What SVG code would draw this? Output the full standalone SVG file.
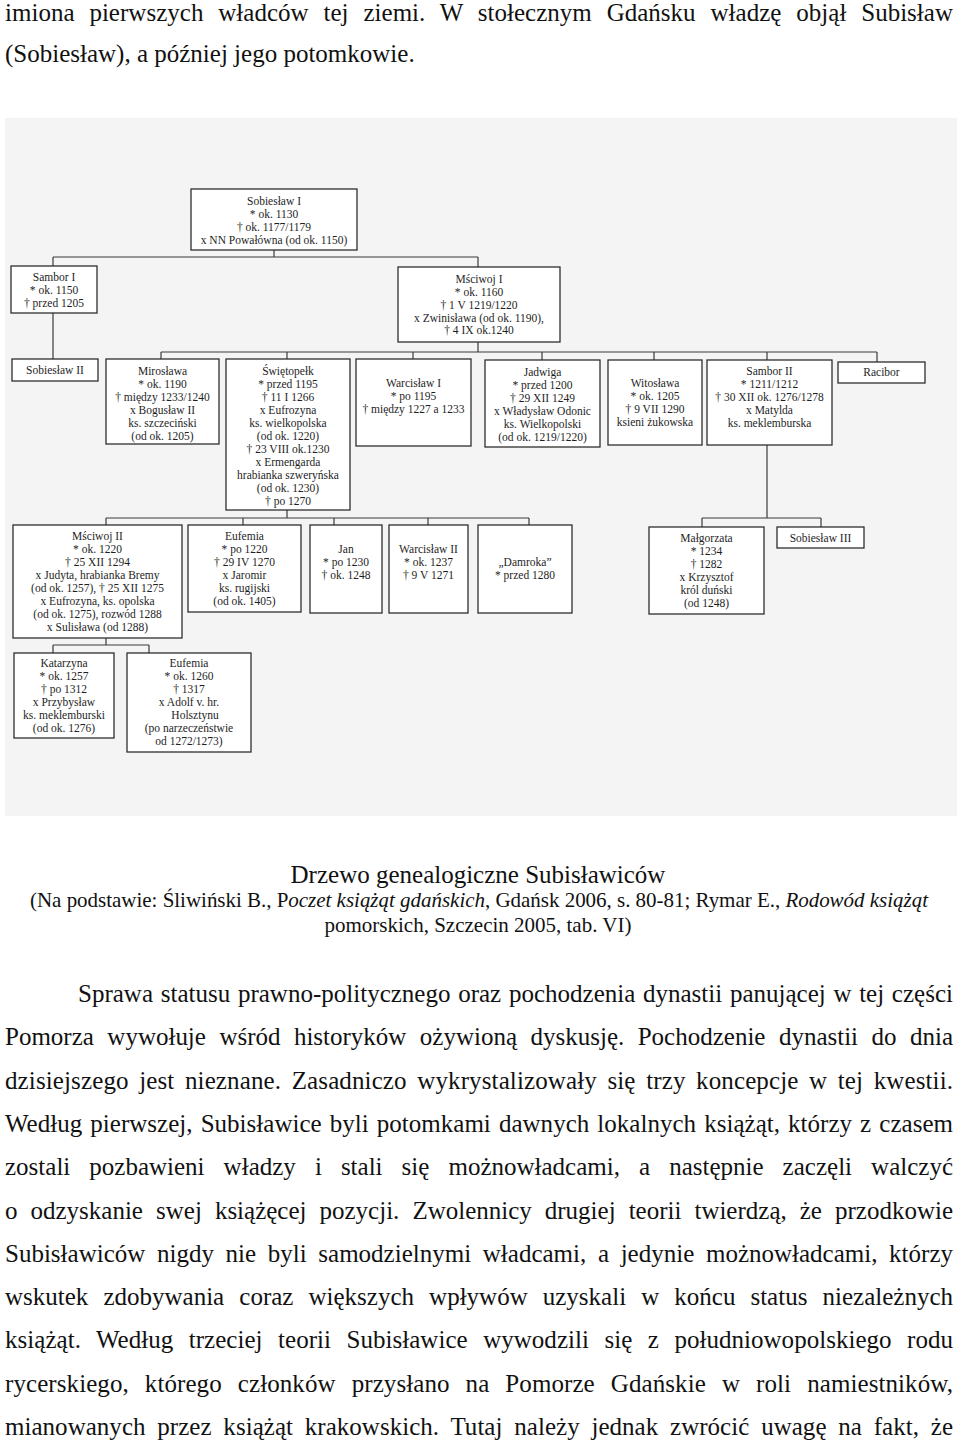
<svg xmlns="http://www.w3.org/2000/svg" width="960" height="1442" viewBox="0 0 960 1442">
<style>
.bg{fill:#f4f4f4}
.box{fill:#ffffff;stroke:#2e2e2e;stroke-width:1.3}
.t{font-family:"Liberation Serif","Times New Roman",serif;font-size:11.5px;fill:#1e1e1e;text-anchor:middle}
.conn{fill:none;stroke:#3a3a3a;stroke-width:1.2}
.body{font-family:"Liberation Serif","Times New Roman",serif;font-size:25px;fill:#111}
.cap{font-family:"Liberation Serif","Times New Roman",serif;fill:#111}
</style>
<rect width="960" height="1442" fill="#ffffff"/>
<g id="page-top">
<text class="body" x="5" y="21" textLength="948" lengthAdjust="spacing" word-spacing="8.6">imiona pierwszych władców tej ziemi. W stołecznym Gdańsku władzę objął Subisław</text>
<text class="body" x="5" y="62">(Sobiesław), a później jego potomkowie.</text>
</g>
<rect class="bg" x="5" y="118" width="952" height="698"/>
<g id="connectors">
<path class="conn" d="M274 250V257M53 257H478M53 257V266M478 257V267M53 313V359M478 342V352M161 352H877M161 352V359M287 352V359M413 352V359M542 352V360M654 352V360M767 352V360M877 352V362M287 510V518M106 518H529M106 518V525M243 518V525M334 518V525M428 518V525M529 518V525M767 445V518M702 518H821M702 518V527M821 518V527M106 638V645M53 645H149M53 645V653M149 645V653"/>
</g>
<g id="sobieslaw1"><rect class="box" x="191" y="189" width="166" height="61"/>
<text class="t"><tspan x="274" y="205">Sobiesław I</tspan><tspan x="274" y="218">* ok. 1130</tspan><tspan x="274" y="231">† ok. 1177/1179</tspan><tspan x="274" y="244">x NN Powałówna (od ok. 1150)</tspan></text></g>
<g id="sambor1"><rect class="box" x="11" y="266" width="86" height="47"/>
<text class="t"><tspan x="54" y="281">Sambor I</tspan><tspan x="54" y="294">* ok. 1150</tspan><tspan x="54" y="307">† przed 1205</tspan></text></g>
<g id="msciwoj1"><rect class="box" x="398" y="267" width="162" height="75"/>
<text class="t"><tspan x="479" y="283">Mściwoj I</tspan><tspan x="479" y="296">* ok. 1160</tspan><tspan x="479" y="309">† 1 V 1219/1220</tspan><tspan x="479" y="322">x Zwinisława (od ok. 1190),</tspan><tspan x="479" y="334">† 4 IX ok.1240</tspan></text></g>
<g id="sobieslaw2"><rect class="box" x="12" y="359" width="86" height="22"/>
<text class="t"><tspan x="55" y="374">Sobiesław II</tspan></text></g>
<g id="miroslawa"><rect class="box" x="106" y="359" width="113" height="85"/>
<text class="t"><tspan x="162.5" y="375">Mirosława</tspan><tspan x="162.5" y="388">* ok. 1190</tspan><tspan x="162.5" y="401">† między 1233/1240</tspan><tspan x="162.5" y="414">x Bogusław II</tspan><tspan x="162.5" y="427">ks. szczeciński</tspan><tspan x="162.5" y="440">(od ok. 1205)</tspan></text></g>
<g id="swietopelk"><rect class="box" x="226" y="359" width="124" height="151"/>
<text class="t"><tspan x="288" y="375">Świętopełk</tspan><tspan x="288" y="388">* przed 1195</tspan><tspan x="288" y="401">† 11 I 1266</tspan><tspan x="288" y="414">x Eufrozyna</tspan><tspan x="288" y="427">ks. wielkopolska</tspan><tspan x="288" y="440">(od ok. 1220)</tspan><tspan x="288" y="453">† 23 VIII ok.1230</tspan><tspan x="288" y="466">x Ermengarda</tspan><tspan x="288" y="479">hrabianka szweryńska</tspan><tspan x="288" y="492">(od ok. 1230)</tspan><tspan x="288" y="505">† po 1270</tspan></text></g>
<g id="warcislaw1"><rect class="box" x="356" y="359" width="115" height="87"/>
<text class="t"><tspan x="413.5" y="387">Warcisław I</tspan><tspan x="413.5" y="400">* po 1195</tspan><tspan x="413.5" y="413">† między 1227 a 1233</tspan></text></g>
<g id="jadwiga"><rect class="box" x="485" y="360" width="115" height="87"/>
<text class="t"><tspan x="542.5" y="376">Jadwiga</tspan><tspan x="542.5" y="389">* przed 1200</tspan><tspan x="542.5" y="402">† 29 XII 1249</tspan><tspan x="542.5" y="415">x Władysław Odonic</tspan><tspan x="542.5" y="428">ks. Wielkopolski</tspan><tspan x="542.5" y="441">(od ok. 1219/1220)</tspan></text></g>
<g id="witoslawa"><rect class="box" x="608" y="360" width="94" height="85"/>
<text class="t"><tspan x="655" y="387">Witosława</tspan><tspan x="655" y="400">* ok. 1205</tspan><tspan x="655" y="413">† 9 VII 1290</tspan><tspan x="655" y="426">ksieni żukowska</tspan></text></g>
<g id="sambor2"><rect class="box" x="707" y="360" width="125" height="85"/>
<text class="t"><tspan x="769.5" y="375">Sambor II</tspan><tspan x="769.5" y="388">* 1211/1212</tspan><tspan x="769.5" y="401">† 30 XII ok. 1276/1278</tspan><tspan x="769.5" y="414">x Matylda</tspan><tspan x="769.5" y="427">ks. meklemburska</tspan></text></g>
<g id="racibor"><rect class="box" x="838" y="362" width="87" height="21"/>
<text class="t"><tspan x="881.5" y="376">Racibor</tspan></text></g>
<g id="msciwoj2"><rect class="box" x="13" y="525" width="169" height="113"/>
<text class="t"><tspan x="97.5" y="540">Mściwoj II</tspan><tspan x="97.5" y="553">* ok. 1220</tspan><tspan x="97.5" y="566">† 25 XII 1294</tspan><tspan x="97.5" y="579">x Judyta, hrabianka Bremy</tspan><tspan x="97.5" y="592">(od ok. 1257), † 25 XII 1275</tspan><tspan x="97.5" y="605">x Eufrozyna, ks. opolska</tspan><tspan x="97.5" y="618">(od ok. 1275), rozwód 1288</tspan><tspan x="97.5" y="631">x Sulisława (od 1288)</tspan></text></g>
<g id="eufemia1"><rect class="box" x="188" y="525" width="113" height="87"/>
<text class="t"><tspan x="244.5" y="540">Eufemia</tspan><tspan x="244.5" y="553">* po 1220</tspan><tspan x="244.5" y="566">† 29 IV 1270</tspan><tspan x="244.5" y="579">x Jaromir</tspan><tspan x="244.5" y="592">ks. rugijski</tspan><tspan x="244.5" y="605">(od ok. 1405)</tspan></text></g>
<g id="jan"><rect class="box" x="310" y="525" width="72" height="88"/>
<text class="t"><tspan x="346" y="553">Jan</tspan><tspan x="346" y="566">* po 1230</tspan><tspan x="346" y="579">† ok. 1248</tspan></text></g>
<g id="warcislaw2"><rect class="box" x="389" y="525" width="79" height="88"/>
<text class="t"><tspan x="428.5" y="553">Warcisław II</tspan><tspan x="428.5" y="566">* ok. 1237</tspan><tspan x="428.5" y="579">† 9 V 1271</tspan></text></g>
<g id="damroka"><rect class="box" x="478" y="525" width="94" height="88"/>
<text class="t"><tspan x="525" y="566">„Damroka”</tspan><tspan x="525" y="579">* przed 1280</tspan></text></g>
<g id="malgorzata"><rect class="box" x="649" y="527" width="115" height="87"/>
<text class="t"><tspan x="706.5" y="542">Małgorzata</tspan><tspan x="706.5" y="555">* 1234</tspan><tspan x="706.5" y="568">† 1282</tspan><tspan x="706.5" y="581">x Krzysztof</tspan><tspan x="706.5" y="594">król duński</tspan><tspan x="706.5" y="607">(od 1248)</tspan></text></g>
<g id="sobieslaw3"><rect class="box" x="777" y="527" width="87" height="21"/>
<text class="t"><tspan x="820.5" y="542">Sobiesław III</tspan></text></g>
<g id="katarzyna"><rect class="box" x="14" y="653" width="100" height="85"/>
<text class="t"><tspan x="64" y="667">Katarzyna</tspan><tspan x="64" y="680">* ok. 1257</tspan><tspan x="64" y="693">† po 1312</tspan><tspan x="64" y="706">x Przybysław</tspan><tspan x="64" y="719">ks. meklemburski</tspan><tspan x="64" y="732">(od ok. 1276)</tspan></text></g>
<g id="eufemia2"><rect class="box" x="127" y="653" width="124" height="99"/>
<text class="t"><tspan x="189" y="667">Eufemia</tspan><tspan x="189" y="680">* ok. 1260</tspan><tspan x="189" y="693">† 1317</tspan><tspan x="189" y="706">x Adolf v. hr.</tspan><tspan x="195" y="719">Holsztynu</tspan><tspan x="189" y="732">(po narzeczeństwie</tspan><tspan x="189" y="745">od 1272/1273)</tspan></text></g>
<g id="caption">
<text class="cap" x="478" y="883" font-size="25" text-anchor="middle">Drzewo genealogiczne Subisławiców</text>
<text class="cap" x="30" y="907" font-size="21" textLength="898" lengthAdjust="spacing">(Na podstawie: Śliwiński B., P<tspan font-style="italic">oczet książąt gdańskich</tspan>, Gdańsk 2006, s. 80-81; Rymar E., <tspan font-style="italic">Rodowód książąt</tspan></text>
<text class="cap" x="478" y="932" font-size="21" text-anchor="middle">pomorskich, Szczecin 2005, tab. VI)</text>
</g>
<g id="paragraph">
<text class="body" x="78" y="1002" textLength="875" lengthAdjust="spacing" word-spacing="1.4">Sprawa statusu prawno-politycznego oraz pochodzenia dynastii panującej w tej części</text>
<text class="body" x="5" y="1045" textLength="948" lengthAdjust="spacing" word-spacing="7.2">Pomorza wywołuje wśród historyków ożywioną dyskusję. Pochodzenie dynastii do dnia</text>
<text class="body" x="5" y="1089" textLength="948" lengthAdjust="spacing" word-spacing="4.2">dzisiejszego jest nieznane. Zasadniczo wykrystalizowały się trzy koncepcje w tej kwestii.</text>
<text class="body" x="5" y="1132" textLength="948" lengthAdjust="spacing" word-spacing="1.8">Według pierwszej, Subisławice byli potomkami dawnych lokalnych książąt, którzy z czasem</text>
<text class="body" x="5" y="1175" textLength="948" lengthAdjust="spacing" word-spacing="12.8">zostali pozbawieni władzy i stali się możnowładcami, a następnie zaczęli walczyć</text>
<text class="body" x="5" y="1219" textLength="948" lengthAdjust="spacing" word-spacing="6.8">o odzyskanie swej książęcej pozycji. Zwolennicy drugiej teorii twierdzą, że przodkowie</text>
<text class="body" x="5" y="1262" textLength="948" lengthAdjust="spacing" word-spacing="5.4">Subisławiców nigdy nie byli samodzielnymi władcami, a jedynie możnowładcami, którzy</text>
<text class="body" x="5" y="1305" textLength="948" lengthAdjust="spacing" word-spacing="8.8">wskutek zdobywania coraz większych wpływów uzyskali w końcu status niezależnych</text>
<text class="body" x="5" y="1348" textLength="948" lengthAdjust="spacing" word-spacing="9.2">książąt. Według trzeciej teorii Subisławice wywodzili się z południowopolskiego rodu</text>
<text class="body" x="5" y="1392" textLength="948" lengthAdjust="spacing" word-spacing="9.7">rycerskiego, którego członków przysłano na Pomorze Gdańskie w roli namiestników,</text>
<text class="body" x="5" y="1435" textLength="948" lengthAdjust="spacing" word-spacing="5.5">mianowanych przez książąt krakowskich. Tutaj należy jednak zwrócić uwagę na fakt, że</text>
</g>
</svg>
